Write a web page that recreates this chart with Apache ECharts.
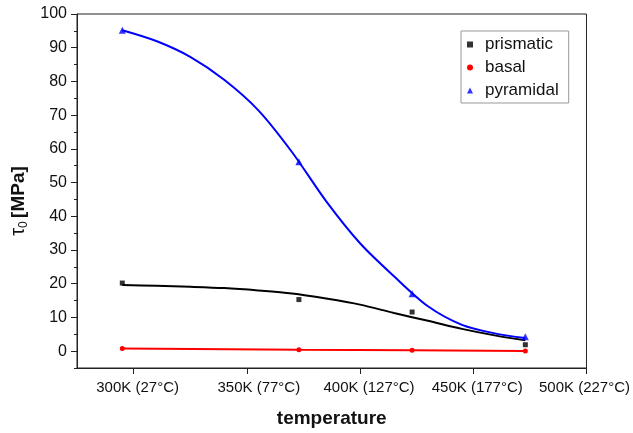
<!DOCTYPE html>
<html>
<head>
<meta charset="utf-8">
<script src="https://cdn.jsdelivr.net/npm/echarts@6/dist/echarts.min.js"></script>
<style>
  html, body { margin: 0; padding: 0; background: #fff; }
  #chart { width: 633px; height: 433px; }
</style>
</head>
<body>
<div id="chart"></div>
<script>
  // measured points (temperature in K)
  var temps = [295, 373, 423, 473];
  var prismatic = [20.2, 15.3, 11.6, 1.9];
  var basal = [0.8, 0.4, 0.3, 0.05];
  var pyramidal = [95.2, 56.2, 17.0, 4.3];

  // fitted curves
  var fitT = [295, 310, 325, 340, 355, 370, 385, 400, 415, 430, 445, 460, 473];
  var prisFit = [19.6, 19.4, 19.1, 18.7, 18.0, 17.1, 15.6, 13.8, 11.3, 9.0, 6.6, 4.6, 3.2];
  var pyrFit = [95.2, 92.0, 87.3, 80.5, 71.5, 59.0, 44.5, 32.0, 22.2, 13.3, 7.8, 5.2, 3.9];

  // axis ticks
  var xTicks = [300, 350, 400, 450, 500];
  var xTickLabels = ['300K (27°C)', '350K (77°C)', '400K (127°C)', '450K (177°C)', '500K (227°C)'];
  var yTicks = [0, 10, 20, 30, 40, 50, 60, 70, 80, 90, 100];
  var yMinorTicks = [-5, 5, 15, 25, 35, 45, 55, 65, 75, 85, 95];

  // the original labels sit a little off their ticks (layout only)
  var xLabelPad = [[0, 0, 0, 8], [0, 0, 0, 24], [0, 0, 0, 18], [0, 0, 0, 8], [0, 4, 0, 0]];

  function pairs(xs, ys) {
    return xs.map(function (x, i) { return [x, ys[i]]; });
  }

  var chart = echarts.init(document.getElementById('chart'));
  var font = 'Liberation Sans, Arial, sans-serif';

  var xRich = {};
  xLabelPad.forEach(function (p, i) {
    xRich['o' + i] = { fontSize: 15, color: '#111', fontFamily: font, padding: p };
  });

  var option = {
    backgroundColor: '#fff',
    animation: false,
    textStyle: { fontFamily: font, color: '#111' },
    grid: {
      left: 77, right: 46, top: 14, bottom: 62,
      show: true, borderColor: '#222', borderWidth: 1
    },
    legend: {
      orient: 'vertical',
      left: 461, top: 31,
      padding: [4, 10, 3, 6],
      itemWidth: 6, itemHeight: 6, itemGap: 4,
      borderColor: '#999', borderWidth: 1,
      textStyle: { fontSize: 17, lineHeight: 19, color: '#111', fontFamily: font, padding: [0, 0, 0, 7] },
      data: [
        { name: 'prismatic', icon: 'rect' },
        { name: 'basal', icon: 'circle' },
        { name: 'pyramidal', icon: 'triangle' }
      ]
    },
    xAxis: {
      type: 'value',
      min: 275, max: 500,
      name: 'temperature',
      nameLocation: 'middle',
      nameGap: 41,
      nameTextStyle: { fontSize: 19, fontWeight: 'bold', color: '#111', fontFamily: font },
      splitLine: { show: false },
      axisLine: { onZero: false, lineStyle: { color: '#222', width: 1 } },
      axisTick: { customValues: xTicks, length: 6, lineStyle: { color: '#222' } },
      axisLabel: {
        customValues: xTicks,
        margin: 12,
        fontSize: 15, color: '#111', fontFamily: font,
        rich: xRich,
        formatter: function (v) {
          var i = xTicks.indexOf(v);
          return '{o' + i + '|' + xTickLabels[i] + '}';
        }
      }
    },
    yAxis: [{
      type: 'value',
      min: -5, max: 100,
      name: '{t|τ}{s|0} {b|[MPa]}',
      nameLocation: 'middle',
      nameGap: 44,
      nameTextStyle: {
        padding: [0, 20, 0, 0],
        rich: {
          t: { fontSize: 20, fontFamily: font, color: '#111' },
          s: { fontSize: 12, fontFamily: font, color: '#111', padding: [9, 0, 0, 0] },
          b: { fontSize: 19, fontWeight: 'bold', fontFamily: font, color: '#111' }
        }
      },
      splitLine: { show: false },
      axisLine: { show: true, onZero: false, lineStyle: { color: '#222', width: 1 } },
      axisTick: { customValues: yTicks, length: 6, lineStyle: { color: '#222' } },
      axisLabel: { customValues: yTicks, margin: 10, fontSize: 16, color: '#111', fontFamily: font }
    }, {
      type: 'value',
      min: -5, max: 100,
      position: 'left',
      splitLine: { show: false },
      axisLine: { show: false },
      axisTick: { customValues: yMinorTicks, length: 3, lineStyle: { color: '#222' } },
      axisLabel: { show: false }
    }],
    series: [
      {
        name: 'prismatic fit', type: 'line', smooth: 0.3, showSymbol: false,
        data: pairs(fitT, prisFit),
        lineStyle: { color: '#000', width: 2 }, z: 2
      },
      {
        name: 'pyramidal fit', type: 'line', smooth: 0.3, showSymbol: false,
        data: pairs(fitT, pyrFit),
        lineStyle: { color: '#0000ff', width: 2 }, z: 2
      },
      {
        name: 'basal', type: 'line', symbol: 'circle', symbolSize: 5,
        data: pairs(temps, basal),
        itemStyle: { color: '#ff0000' },
        lineStyle: { color: '#ff0000', width: 2 }, z: 3
      },
      {
        name: 'prismatic', type: 'scatter', symbol: 'rect', symbolSize: 5,
        data: pairs(temps, prismatic),
        itemStyle: { color: '#000' }, z: 4
      },
      {
        name: 'pyramidal', type: 'scatter', symbol: 'triangle', symbolSize: 7,
        data: pairs(temps, pyramidal),
        itemStyle: { color: '#0000ff' }, z: 4
      }
    ]
  };

  chart.setOption(option);
</script>
</body>
</html>
